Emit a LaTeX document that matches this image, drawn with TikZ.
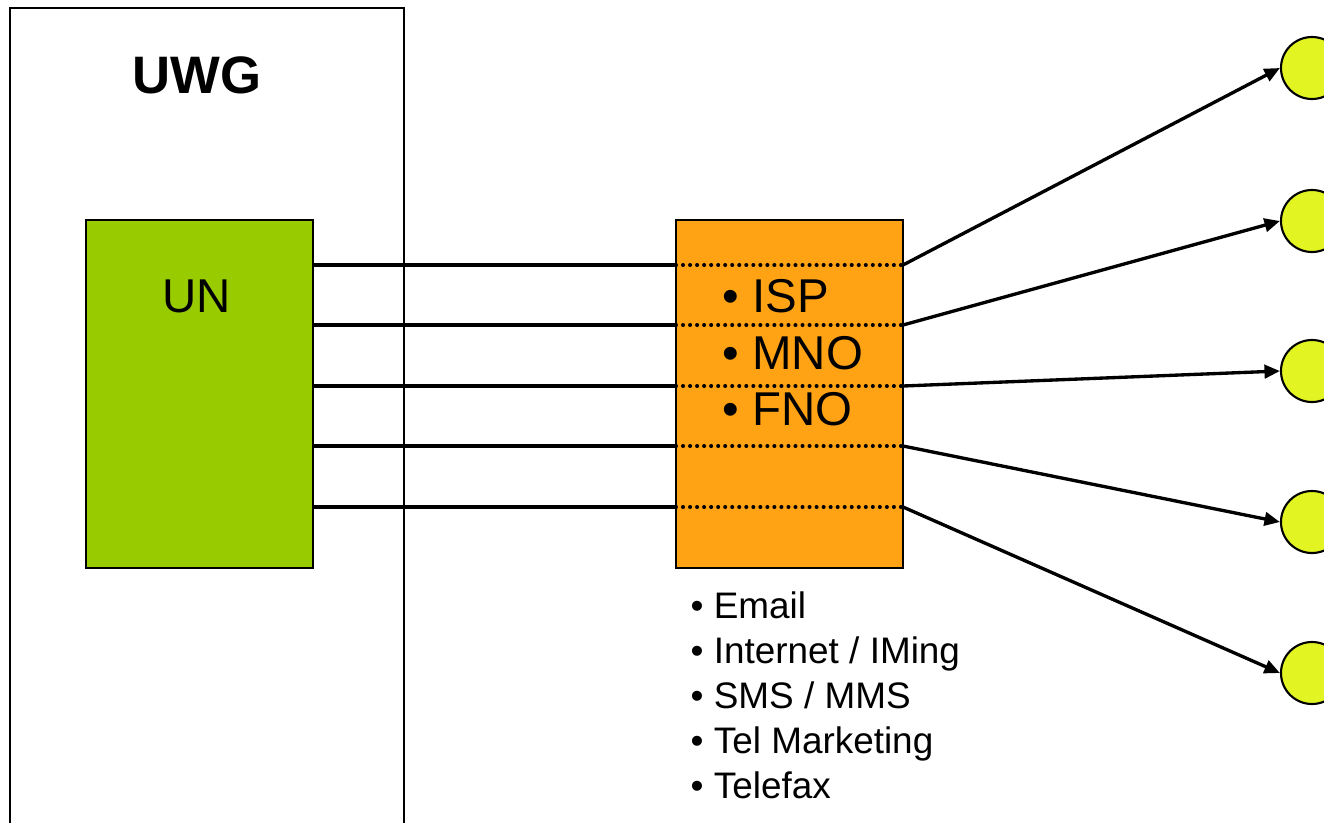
\documentclass[tikz,border=0pt]{standalone}
\usepackage{fontspec}
\setmainfont{Liberation Sans}
\usetikzlibrary{arrows.meta}

\definecolor{ungreen}{HTML}{99CC00}
\definecolor{oporange}{HTML}{FFA214}
\definecolor{tgtyellow}{HTML}{E2F522}

\tikzset{
  link/.style={line width=0.95pt},
  dots/.style={line width=1.15pt, line cap=round, dash pattern=on 0pt off 2pt},
  fanout/.style={line width=0.95pt, -{Triangle[length=4.4pt,width=3.8pt]}},
  target/.style={circle, draw, line width=0.6pt, fill=tgtyellow, minimum size=0.62cm, inner sep=0pt},
  bigtxt/.style={font=\fontsize{13.5}{16}\selectfont, inner sep=0pt, anchor=base west},
  smalltxt/.style={font=\fontsize{10.5}{12}\selectfont, inner sep=0pt, anchor=base west},
}

\begin{document}
\begin{tikzpicture}
\useasboundingbox (0,0) rectangle (13.24,-8.22);
\clip (0,0) rectangle (13.24,-8.22);

% law frame
\draw[line width=0.6pt] (0.10,-8.60) -- (0.10,-0.08) -- (4.04,-0.08) -- (4.04,-8.60);
\node[font=\bfseries\fontsize{15}{18}\selectfont, inner sep=0pt, anchor=base] (uwg) at (1.97,-0.93) {UWG};

% sender and operator boxes
\node[draw, line width=0.6pt, fill=ungreen, minimum width=2.27cm, minimum height=3.48cm, inner sep=0pt] (un) at (1.995,-3.94) {};
\node[font=\fontsize{13.5}{16}\selectfont, inner sep=0pt, anchor=base] (untxt) at (1.97,-3.12) {UN};
\node[draw, line width=0.6pt, fill=oporange, minimum width=2.27cm, minimum height=3.48cm, inner sep=0pt] (opbox) at (7.895,-3.94) {};

% channels
\foreach \y [count=\i] in {2.65,3.25,3.86,4.46,5.07} {
  \coordinate (a\i) at (3.13,-\y);
  \coordinate (b\i) at (6.76,-\y);
  \coordinate (e\i) at (9.03,-\y);
}
\foreach \y [count=\i] in {0.68,2.21,3.71,5.22,6.73}
  \node[target] (c\i) at (13.12,-\y) {};

\foreach \i in {1,...,5} {
  \draw[link] (a\i) -- (b\i);
  \draw[dots] (b\i) -- (e\i);
  \draw[fanout] (e\i) -- (c\i.west);
}

% operator types
\node[bigtxt] (isp) at (7.22,-3.12) {• ISP};
\node[bigtxt] (mno) at (7.22,-3.69) {• MNO};
\node[bigtxt] (fno) at (7.22,-4.25) {• FNO};

% media
\node[smalltxt] (m1) at (6.90,-6.18) {• Email};
\node[smalltxt] (m2) at (6.90,-6.63) {• Internet / IMing};
\node[smalltxt] (m3) at (6.90,-7.08) {• SMS / MMS};
\node[smalltxt] (m4) at (6.90,-7.53) {• Tel Marketing};
\node[smalltxt] (m5) at (6.90,-7.98) {• Telefax};
\end{tikzpicture}
\end{document}
